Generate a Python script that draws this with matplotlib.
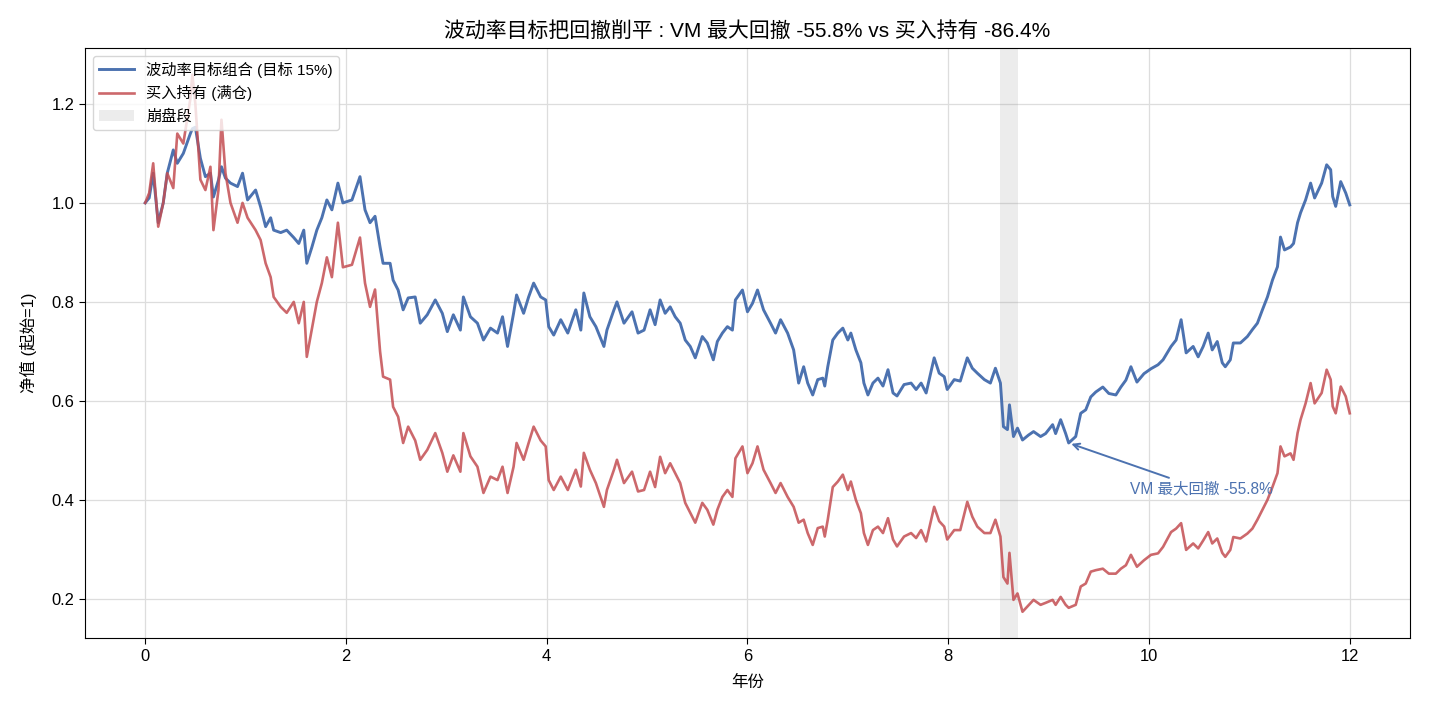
import matplotlib
matplotlib.use("Agg")
import matplotlib.pyplot as plt

plt.rcParams['font.family'] = ['Liberation Sans', 'Noto Sans CJK SC', 'DejaVu Sans']

# 时间轴 (年) 与两条净值曲线
years = [
    0.00, 0.04, 0.08, 0.13, 0.18, 0.22, 0.28, 0.32, 0.38, 0.45, 0.47, 0.50,
    0.55, 0.60, 0.65, 0.68, 0.73, 0.76, 0.80, 0.85, 0.92, 0.97, 1.02, 1.10,
    1.15, 1.20, 1.25, 1.28, 1.35, 1.41, 1.48, 1.53, 1.58, 1.61, 1.66, 1.71,
    1.76, 1.81, 1.86, 1.92, 1.97, 2.06, 2.14, 2.19, 2.24, 2.29, 2.34, 2.37,
    2.44, 2.47, 2.52, 2.57, 2.62, 2.69, 2.74, 2.81, 2.89, 2.96, 3.01, 3.07,
    3.14, 3.17, 3.24, 3.31, 3.37, 3.44, 3.51, 3.56, 3.61, 3.67, 3.70, 3.77,
    3.82, 3.87, 3.94, 3.99, 4.02, 4.07, 4.14, 4.21, 4.29, 4.34, 4.37, 4.43,
    4.49, 4.57, 4.60, 4.67, 4.70, 4.77, 4.85, 4.91, 4.97, 5.03, 5.08, 5.13,
    5.18, 5.23, 5.28, 5.33, 5.38, 5.43, 5.48, 5.55, 5.60, 5.66, 5.70, 5.75,
    5.80, 5.85, 5.88, 5.95, 6.00, 6.05, 6.10, 6.16, 6.23, 6.28, 6.33, 6.40,
    6.46, 6.51, 6.56, 6.60, 6.65, 6.70, 6.75, 6.77, 6.80, 6.85, 6.90, 6.95,
    7.00, 7.03, 7.08, 7.13, 7.16, 7.20, 7.25, 7.30, 7.35, 7.40, 7.45, 7.49,
    7.56, 7.63, 7.68, 7.73, 7.78, 7.83, 7.86, 7.91, 7.96, 7.99, 8.06, 8.12,
    8.19, 8.24, 8.29, 8.36, 8.42, 8.47, 8.52, 8.55, 8.59, 8.61, 8.65, 8.69,
    8.74, 8.80, 8.85, 8.92, 8.97, 9.04, 9.07, 9.12, 9.17, 9.20, 9.27, 9.32,
    9.37, 9.42, 9.47, 9.54, 9.60, 9.67, 9.72, 9.77, 9.82, 9.88, 9.95, 10.02,
    10.09, 10.14, 10.22, 10.27, 10.32, 10.37, 10.44, 10.49, 10.54, 10.59, 10.63, 10.68,
    10.73, 10.76, 10.81, 10.84, 10.91, 10.98, 11.03, 11.08, 11.13, 11.18, 11.23, 11.28,
    11.31, 11.35, 11.41, 11.44, 11.48, 11.51, 11.56, 11.61, 11.65, 11.72, 11.77, 11.81,
    11.83, 11.86, 11.91, 11.96, 12.00,
]

vm_nav = [
    1.000, 1.010, 1.060, 0.960, 1.000, 1.060, 1.107, 1.080, 1.100, 1.140, 1.150, 1.153,
    1.090, 1.053, 1.060, 1.012, 1.046, 1.073, 1.050, 1.040, 1.033, 1.060, 1.006, 1.026,
    0.992, 0.952, 0.970, 0.945, 0.940, 0.945, 0.930, 0.918, 0.945, 0.878, 0.910, 0.945,
    0.970, 1.006, 0.986, 1.040, 1.000, 1.006, 1.053, 0.986, 0.960, 0.973, 0.911, 0.878,
    0.878, 0.844, 0.824, 0.784, 0.808, 0.810, 0.757, 0.774, 0.804, 0.777, 0.740, 0.774,
    0.743, 0.810, 0.770, 0.757, 0.723, 0.747, 0.737, 0.770, 0.710, 0.777, 0.814, 0.777,
    0.810, 0.838, 0.810, 0.804, 0.750, 0.733, 0.764, 0.737, 0.784, 0.743, 0.818, 0.770,
    0.750, 0.710, 0.743, 0.784, 0.800, 0.757, 0.780, 0.737, 0.743, 0.784, 0.754, 0.804,
    0.777, 0.790, 0.770, 0.757, 0.723, 0.710, 0.687, 0.730, 0.717, 0.683, 0.720, 0.737,
    0.750, 0.743, 0.804, 0.824, 0.780, 0.797, 0.824, 0.784, 0.757, 0.737, 0.764, 0.737,
    0.703, 0.636, 0.669, 0.636, 0.612, 0.643, 0.646, 0.630, 0.669, 0.723, 0.737, 0.747,
    0.723, 0.737, 0.703, 0.677, 0.636, 0.612, 0.636, 0.646, 0.630, 0.663, 0.616, 0.610,
    0.633, 0.636, 0.623, 0.636, 0.616, 0.660, 0.687, 0.656, 0.649, 0.623, 0.643, 0.640,
    0.687, 0.666, 0.656, 0.643, 0.636, 0.666, 0.636, 0.548, 0.542, 0.592, 0.528, 0.545,
    0.521, 0.531, 0.538, 0.528, 0.534, 0.552, 0.534, 0.562, 0.534, 0.515, 0.528, 0.575,
    0.582, 0.608, 0.618, 0.628, 0.615, 0.612, 0.628, 0.642, 0.669, 0.638, 0.655, 0.665,
    0.673, 0.683, 0.710, 0.723, 0.764, 0.697, 0.710, 0.689, 0.710, 0.737, 0.703, 0.720,
    0.677, 0.669, 0.683, 0.717, 0.717, 0.730, 0.744, 0.757, 0.784, 0.810, 0.844, 0.871,
    0.931, 0.905, 0.911, 0.918, 0.960, 0.980, 1.006, 1.040, 1.010, 1.040, 1.077, 1.067,
    1.013, 0.993, 1.043, 1.020, 0.996,
]

bh_nav = [
    1.000, 1.020, 1.080, 0.952, 1.000, 1.060, 1.030, 1.140, 1.120, 1.210, 1.259, 1.200,
    1.047, 1.026, 1.073, 0.945, 1.026, 1.168, 1.060, 1.000, 0.960, 1.000, 0.970, 0.945,
    0.925, 0.878, 0.850, 0.810, 0.790, 0.778, 0.800, 0.757, 0.800, 0.689, 0.744, 0.800,
    0.838, 0.890, 0.850, 0.960, 0.870, 0.875, 0.930, 0.838, 0.790, 0.825, 0.700, 0.649,
    0.643, 0.588, 0.568, 0.515, 0.548, 0.520, 0.481, 0.501, 0.535, 0.495, 0.457, 0.490,
    0.457, 0.535, 0.488, 0.467, 0.414, 0.447, 0.440, 0.467, 0.414, 0.467, 0.515, 0.481,
    0.515, 0.548, 0.520, 0.508, 0.440, 0.420, 0.447, 0.420, 0.461, 0.427, 0.495, 0.461,
    0.434, 0.386, 0.420, 0.461, 0.481, 0.434, 0.457, 0.417, 0.420, 0.457, 0.426, 0.487,
    0.454, 0.474, 0.454, 0.434, 0.394, 0.374, 0.354, 0.394, 0.380, 0.350, 0.380, 0.406,
    0.420, 0.406, 0.484, 0.508, 0.454, 0.474, 0.508, 0.461, 0.434, 0.414, 0.434, 0.406,
    0.386, 0.354, 0.360, 0.333, 0.309, 0.343, 0.346, 0.326, 0.360, 0.426, 0.437, 0.451,
    0.420, 0.437, 0.400, 0.373, 0.333, 0.309, 0.339, 0.346, 0.333, 0.363, 0.320, 0.306,
    0.326, 0.333, 0.323, 0.339, 0.316, 0.360, 0.386, 0.357, 0.346, 0.320, 0.339, 0.339,
    0.396, 0.366, 0.346, 0.333, 0.333, 0.360, 0.326, 0.244, 0.231, 0.293, 0.198, 0.211,
    0.174, 0.187, 0.198, 0.188, 0.192, 0.198, 0.188, 0.204, 0.188, 0.182, 0.188, 0.225,
    0.231, 0.255, 0.258, 0.261, 0.251, 0.251, 0.261, 0.268, 0.289, 0.265, 0.278, 0.289,
    0.292, 0.305, 0.335, 0.342, 0.353, 0.299, 0.312, 0.302, 0.318, 0.335, 0.312, 0.322,
    0.293, 0.285, 0.299, 0.325, 0.322, 0.332, 0.342, 0.360, 0.380, 0.400, 0.426, 0.454,
    0.508, 0.488, 0.494, 0.481, 0.535, 0.562, 0.595, 0.636, 0.595, 0.616, 0.663, 0.643,
    0.589, 0.575, 0.629, 0.609, 0.575,
]

crash_span = (8.52, 8.70)
vm_trough = (9.20, 0.515)
vm_mdd = -55.8
bh_mdd = -86.4

BLUE = '#4C72B0'
RED = '#C44E52'

fig = plt.figure(figsize=(14.3, 7.15), dpi=100)
ax = fig.add_axes([0.0594, 0.1077, 0.9266, 0.8252])

ax.axvspan(crash_span[0], crash_span[1], color='gray', alpha=0.15, lw=0, label='崩盘段')
ax.plot(years, vm_nav, color=BLUE, lw=2.1, label='波动率目标组合 (目标 15%)')
ax.plot(years, bh_nav, color=RED, lw=1.9, alpha=0.85, label='买入持有 (满仓)')

ax.annotate(f'VM 最大回撤 {vm_mdd}%', xy=vm_trough, xytext=(10.52, 0.422),
            ha='center', va='center', fontsize=11.2, color=BLUE,
            arrowprops=dict(arrowstyle='->', color=BLUE, lw=1.4))

ax.set_xlim(-0.6, 12.6)
ax.set_ylim(0.121, 1.313)
ax.set_xticks([0, 2, 4, 6, 8, 10, 12])
ax.set_yticks([0.2, 0.4, 0.6, 0.8, 1.0, 1.2])
ax.tick_params(labelsize=11.9, length=4.2)
ax.grid(True, color='#dddddd', lw=0.9)
ax.set_axisbelow(True)

ax.set_title(f'波动率目标把回撤削平 : VM 最大回撤 {vm_mdd}% vs 买入持有 {bh_mdd}%', fontsize=15, pad=8)
ax.set_xlabel('年份', fontsize=11.9, labelpad=8)
ax.set_ylabel('净值 (起始=1)', fontsize=11.9, labelpad=10)

# 图例顺序: 两条线在前, 崩盘段在后
h, l = ax.get_legend_handles_labels()
ax.legend([h[1], h[2], h[0]], [l[1], l[2], l[0]], loc='upper left', fontsize=11,
          framealpha=0.8, handlelength=2.3)

fig.savefig('out.png', dpi=100)
